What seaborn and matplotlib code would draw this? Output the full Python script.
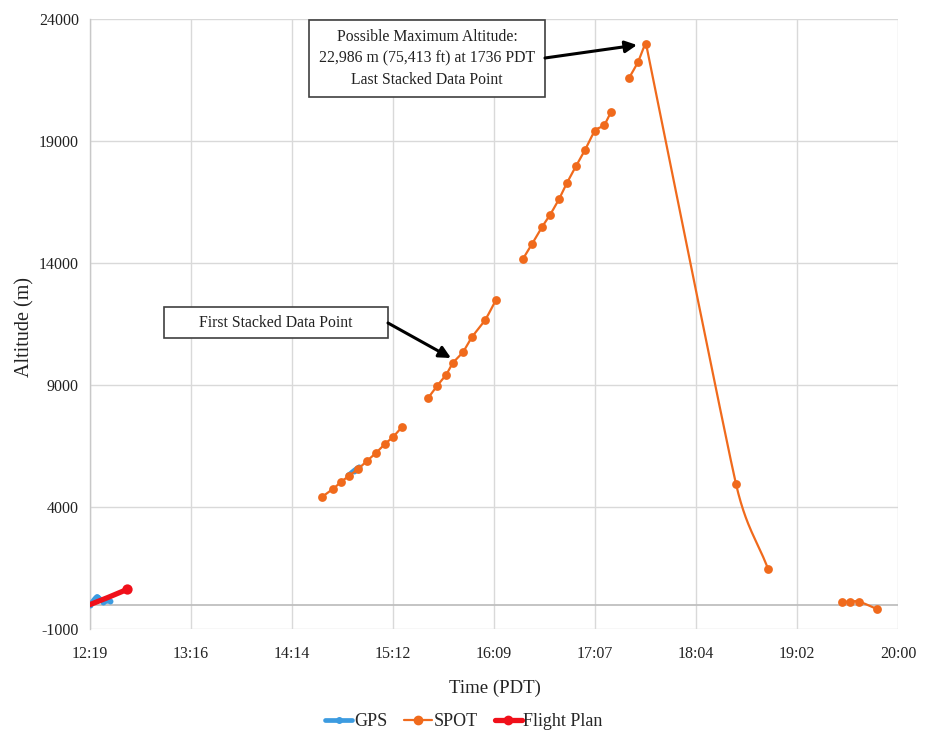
import numpy as np
import pandas as pd
import matplotlib
matplotlib.use("Agg")
import matplotlib.pyplot as plt
import seaborn as sns
from matplotlib.patches import Rectangle, FancyArrowPatch
from matplotlib.lines import Line2D

# ---------------- data (time = minutes after midnight, altitude in m) ----------------
gps_time = [739.2, 743.2, 746.6, 750.6, 886.5, 889.5, 892.5]
gps_alt = [0, 330, 120, 150, 5300, 5480, 5640]
gps_seg = [0, 0, 0, 0, 1, 1, 1]

plan_time = [739.2, 749.7, 760.3]
plan_alt = [0, 300, 620]

spot_time = [871.5, 877.8, 882.3, 886.9, 892.0, 897.2, 902.3, 907.4, 912.0, 917.1,
             932.0, 937.1, 942.2, 946.2, 951.9, 957.1, 964.5, 970.7,
             986.1, 991.3, 997.0, 1001.5, 1006.7, 1011.2, 1016.4, 1021.5, 1027.2, 1032.3, 1036.3,
             1046.6, 1051.7, 1056.3, 1107.6, 1125.9,
             1168.1, 1172.6, 1177.8, 1188.0]
spot_alt = [4412, 4740, 5026, 5272, 5559, 5887, 6215, 6583, 6870, 7280,
            8469, 8960, 9411, 9903, 10354, 10968, 11665, 12485,
            14165, 14779, 15476, 15968, 16624, 17279, 17976, 18632, 19410, 19656, 20189,
            21582, 22238, 22986, 4944, 1461,
            120, 120, 120, -180]
spot_seg = [0] * 10 + [1] * 8 + [2] * 11 + [3] * 5 + [4] * 4

x_tick_labels = ["12:19", "13:16", "14:14", "15:12", "16:09", "17:07", "18:04", "19:02", "20:00"]
y_ticks = [-1000, 4000, 9000, 14000, 19000, 24000]

C_GPS = "#3c9be0"
C_SPOT = "#f06a1c"
C_PLAN = "#f0101a"
GRID = "#d9d9d9"

# screen scale (px per minute, px per metre) used so smoothing looks as in the chart
SX, SY = 808 / 460.8, 610 / 25000.0


def smooth(xs, ys, n=40):
    """Bezier smoothing through points (tangents limited by neighbouring segment lengths)."""
    P = np.column_stack([np.asarray(xs, float) * SX, np.asarray(ys, float) * SY])
    m = len(P)
    if m < 2:
        return np.asarray(xs, float), np.asarray(ys, float)
    T = np.zeros_like(P)
    for i in range(m):
        if i == 0:
            t = (P[1] - P[0]) / 3.0
        elif i == m - 1:
            t = (P[-1] - P[-2]) / 3.0
        else:
            t = (P[i + 1] - P[i - 1]) / 6.0
        lens = []
        if i > 0:
            lens.append(np.linalg.norm(P[i] - P[i - 1]))
        if i < m - 1:
            lens.append(np.linalg.norm(P[i + 1] - P[i]))
        extreme = 0 < i < m - 1 and (P[i, 1] - P[i - 1, 1]) * (P[i + 1, 1] - P[i, 1]) < 0
        lim = (0.15 if extreme else 0.5) * min(lens)
        nt = np.linalg.norm(t)
        if nt > lim and nt > 0:
            t = t * lim / nt
        T[i] = t
    out = [P[0]]
    tt = np.linspace(0, 1, n)[1:][:, None]
    for i in range(m - 1):
        p1, p2 = P[i], P[i + 1]
        c1, c2 = p1 + T[i], p2 - T[i + 1]
        b = (1 - tt) ** 3 * p1 + 3 * (1 - tt) ** 2 * tt * c1 + 3 * (1 - tt) * tt ** 2 * c2 + tt ** 3 * p2
        out.extend(b)
    out = np.array(out)
    return out[:, 0] / SX, out[:, 1] / SY


def smooth_frame(times, alts, segs):
    rows = []
    df = pd.DataFrame({"time": times, "alt": alts, "seg": segs})
    for s, g in df.groupby("seg"):
        sx, sy = smooth(g["time"].values, g["alt"].values)
        rows.append(pd.DataFrame({"time": sx, "alt": sy, "seg": s}))
    return pd.concat(rows, ignore_index=True), df


sns.set_theme(style="white")
plt.rcParams["font.family"] = ["Liberation Serif", "DejaVu Serif"]

W, H = 932, 734
fig = plt.figure(figsize=(W / 100, H / 100), dpi=100)
ax = fig.add_axes([90 / W, 1 - 629 / H, 808 / W, 610 / H])

x0 = 739.2
xt = [x0 + 57.6 * k for k in range(9)]
ax.set_xlim(xt[0], xt[-1])
ax.set_ylim(-1000, 24000)
ax.set_xticks(xt)
ax.set_xticklabels(x_tick_labels)
ax.set_yticks(y_ticks)
ax.set_yticklabels([str(v) for v in y_ticks])
ax.grid(True, color=GRID, lw=1.0)
ax.set_axisbelow(True)
for s in ["top", "right", "bottom"]:
    ax.spines[s].set_visible(False)
ax.spines["left"].set_color("#c8c8c8")
ax.spines["left"].set_linewidth(1.0)
ax.axhline(0, color="#bfbfbf", lw=1.3, zorder=1)
ax.tick_params(axis="both", length=0, labelsize=11.5, colors="#222222")
ax.tick_params(axis="x", pad=12)
ax.tick_params(axis="y", pad=8)

# GPS
gps_s, gps_df = smooth_frame(gps_time, gps_alt, gps_seg)
sns.lineplot(data=gps_s, x="time", y="alt", units="seg", estimator=None, sort=False,
             color=C_GPS, lw=3.4, ax=ax, zorder=3)
sns.scatterplot(data=gps_df, x="time", y="alt", color=C_GPS, s=18, linewidth=0, ax=ax, zorder=3)

# SPOT
spot_s, spot_df = smooth_frame(spot_time, spot_alt, spot_seg)
sns.lineplot(data=spot_s, x="time", y="alt", units="seg", estimator=None, sort=False,
             color=C_SPOT, lw=1.6, ax=ax, zorder=4)
sns.scatterplot(data=spot_df, x="time", y="alt", color=C_SPOT, s=40, linewidth=0, ax=ax, zorder=5)

# Flight plan
plan_df = pd.DataFrame({"time": plan_time, "alt": plan_alt})
sns.lineplot(data=plan_df, x="time", y="alt", estimator=None, sort=False,
             color=C_PLAN, lw=3.8, ax=ax, zorder=6)
sns.scatterplot(data=plan_df.iloc[[-1]], x="time", y="alt", color=C_PLAN, s=55, linewidth=0, ax=ax, zorder=6)

ax.set_xlabel("")
ax.set_ylabel("")
fig.text(25 / W, 1 - 327 / H, "Altitude (m)", rotation=90, ha="center", va="center",
         fontsize=14.5, color="#222222")
fig.text(495 / W, 1 - 688 / H, "Time (PDT)", ha="center", va="center",
         fontsize=13.5, color="#222222")


def fx(px):
    return px / W


def fy(py):
    return 1 - py / H


def box(x1, y1, x2, y2, text, ls=1.45):
    r = Rectangle((fx(x1), fy(y2)), (x2 - x1) / W, (y2 - y1) / H, transform=fig.transFigure,
                  facecolor="white", edgecolor="#404040", lw=1.2, zorder=10)
    fig.patches.append(r)
    fig.text(fx((x1 + x2) / 2), fy((y1 + y2) / 2), text, ha="center", va="center",
             fontsize=11.3, color="#222222", linespacing=ls, zorder=11)


box(309, 20, 545, 97, "Possible Maximum Altitude:\n22,986 m (75,413 ft) at 1736 PDT\nLast Stacked Data Point")
box(164, 307, 388, 338, "First Stacked Data Point")

for (sx, sy), (ex, ey) in [((545, 58), (637, 45)), ((388, 323), (451, 358))]:
    fig.patches.append(FancyArrowPatch(
        (fx(sx), fy(sy)), (fx(ex), fy(ey)), transform=fig.transFigure,
        arrowstyle="-|>,head_length=7,head_width=3.5", color="black", lw=2.2,
        shrinkA=0, shrinkB=0, zorder=12))

# legend
handles = [
    Line2D([], [], color=C_GPS, lw=3.4, marker="o", ms=4),
    Line2D([], [], color=C_SPOT, lw=1.6, marker="o", ms=6),
    Line2D([], [], color=C_PLAN, lw=3.8, marker="o", ms=6),
]
fig.legend(handles, ["GPS", "SPOT", "Flight Plan"], loc="center", ncol=3,
           bbox_to_anchor=(464 / W, 1 - 722 / H), frameon=False, fontsize=13,
           handlelength=1.5, handletextpad=0.1, columnspacing=0.95)

fig.savefig("out.png", dpi=100)
